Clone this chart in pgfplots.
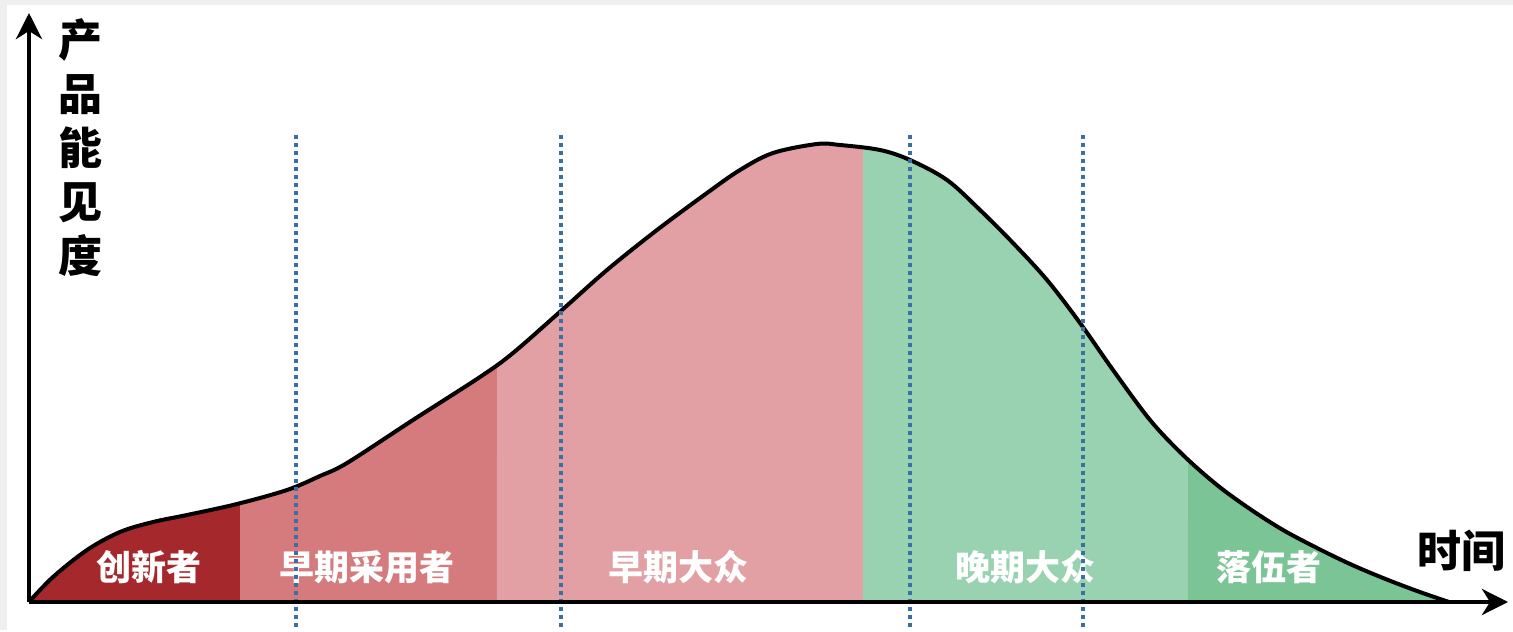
\documentclass[border=0pt]{standalone}
\usepackage{pgfplots}
\pgfplotsset{compat=1.18}
\usepackage{pgfplotstable}
\usepgfplotslibrary{fillbetween}
\usetikzlibrary{arrows.meta}
\usepackage{fontspec}
\newfontfamily\cjk{Noto Sans CJK SC}

\definecolor{innov}{HTML}{A4282C}
\definecolor{early}{HTML}{D57A7D}
\definecolor{earlymaj}{HTML}{E3A0A4}
\definecolor{latemaj}{HTML}{98D2B0}
\definecolor{lagg}{HTML}{7BC496}
\definecolor{dotblue}{HTML}{3B6EA5}
\definecolor{edge}{HTML}{EFEFEF}

% adoption curve (visibility over time)
\pgfplotstableread{
x y
0 0
24 25
58 52
91 70
124 80
158 87
208 98
258 112
291 126
318 139
384 182
451 225
484 249
533 292
578 332
628 372
678 409
711 432
744 449
788 458
811 457
851 452
881 442
918 422
951 392
984 359
1018 322
1051 279
1084 232
1121 182
1154 147
1188 117
1221 93
1254 72
1288 54
1321 38
1354 24
1388 11
1420 0
}\curve

\begin{document}
\begin{tikzpicture}
\begin{axis}[
    x=0.5pt, y=0.5pt,
    xmin=0, xmax=1479, ymin=0, ymax=589,
    enlargelimits=false,
    axis lines=left,
    axis line style={line width=2.2pt, -{Stealth[length=13pt, width=13pt, inset=4pt]}},
    ticks=none,
    clip=false,
    axis on top,
    fill between/on layer=main,
]
    % page background
    \fill[edge] (axis cs:-29,-28) rectangle (axis cs:1484,602);
    \fill[white] (axis cs:-22,-28) rectangle (axis cs:1484,597);

    \addplot[draw=none, name path=curve, smooth, tension=0.55] table {\curve};
    \addplot[draw=none, name path=base] coordinates {(0,0) (1420,0)};

    \addplot[innov, draw=none] fill between[of=curve and base, soft clip={domain=0:211}];
    \addplot[early, draw=none] fill between[of=curve and base, soft clip={domain=211:468}];
    \addplot[earlymaj, draw=none] fill between[of=curve and base, soft clip={domain=468:834}];
    \addplot[latemaj, draw=none] fill between[of=curve and base, soft clip={domain=834:1159}];
    \addplot[lagg, draw=none] fill between[of=curve and base, soft clip={domain=1159:1420}];

    \addplot[black, line width=2pt, smooth, tension=0.55] table {\curve};

    % group labels
    \begin{scope}[every node/.style={text=white, font=\cjk\bfseries\fontsize{17.5}{20}\selectfont}]
    \node at (axis cs:120,35) {创新者};
    \node at (axis cs:338,35) {早期采用者};
    \node at (axis cs:649,35) {早期大众};
    \node at (axis cs:996,35) {晚期大众};
    \node at (axis cs:1240,35) {落伍者};
    \end{scope}

    % dotted separators
    \addplot[dotblue, line width=1.8pt, dash pattern=on 1.8pt off 2.2pt] coordinates {(267,467) (267,-28)};
    \addplot[dotblue, line width=1.8pt, dash pattern=on 1.8pt off 2.2pt] coordinates {(532,467) (532,-28)};
    \addplot[dotblue, line width=1.8pt, dash pattern=on 1.8pt off 2.2pt] coordinates {(881,467) (881,-28)};
    \addplot[dotblue, line width=1.8pt, dash pattern=on 1.8pt off 2.2pt] coordinates {(1054,467) (1054,-28)};

    % axis titles
    \node[font=\cjk\bfseries\fontsize{22}{27}\selectfont, align=center] at (axis cs:51,454) {产\\品\\能\\见\\度};
    \node[font=\cjk\bfseries\fontsize{22}{27}\selectfont] at (axis cs:1432,51) {时间};
\end{axis}
\end{tikzpicture}
\end{document}
